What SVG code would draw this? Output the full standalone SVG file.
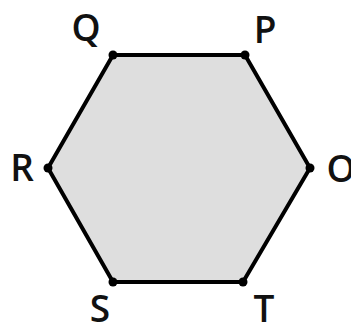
<svg xmlns="http://www.w3.org/2000/svg" width="351" height="329" viewBox="0 0 351 329">
<style>
.lbl{font-family:"Open Sans","Liberation Sans",sans-serif;font-size:37px;font-weight:600;fill:#111;text-anchor:middle}
.dot{fill:#000}
</style>
<rect width="351" height="329" fill="#fff"/>
<g id="hexagon">
<polygon points="113,55 245,55 310,168 243,282 113,282 48,168" fill="#dedede" stroke="#000" stroke-width="4" stroke-linejoin="round"/>
</g>
<g id="P"><circle class="dot" cx="245" cy="55" r="4.5"/><text class="lbl" x="265" y="43">P</text></g>
<g id="Q"><circle class="dot" cx="113" cy="55" r="4.5"/><text class="lbl" x="86" y="41">Q</text></g>
<g id="R"><circle class="dot" cx="48" cy="168" r="4.5"/><text class="lbl" x="22" y="181">R</text></g>
<g id="O"><circle class="dot" cx="310" cy="168" r="4.5"/><text class="lbl" x="341" y="182">O</text></g>
<g id="S"><circle class="dot" cx="113" cy="282" r="4.5"/><text class="lbl" x="100" y="322">S</text></g>
<g id="T"><circle class="dot" cx="243" cy="282" r="4.5"/><text class="lbl" x="264" y="322">T</text></g>
</svg>
